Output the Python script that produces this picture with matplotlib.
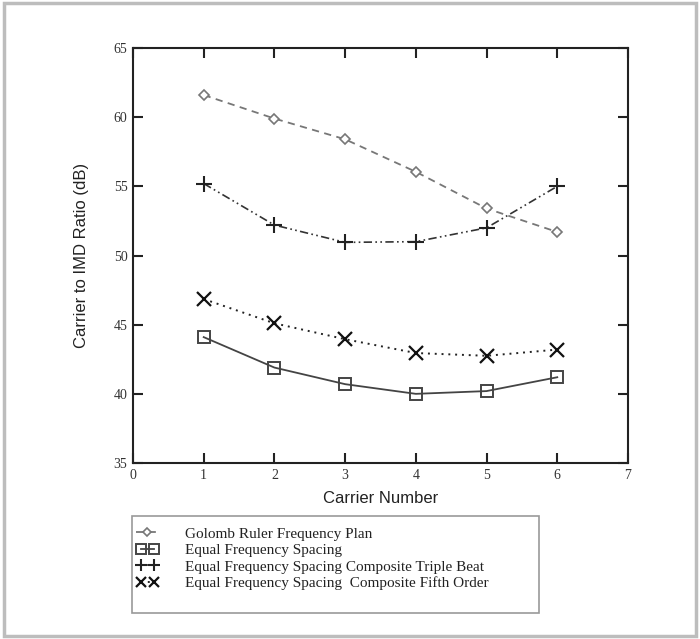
import matplotlib
matplotlib.use('Agg')
import matplotlib.pyplot as plt
from matplotlib.patches import Rectangle
from matplotlib.legend_handler import HandlerLine2D

# values
carrier = [1, 2, 3, 4, 5, 6]
golomb = [61.6, 59.9, 58.4, 56.05, 53.4, 51.7]
equal_spacing = [44.1, 41.9, 40.7, 40.0, 40.2, 41.2]
triple_beat = [55.2, 52.2, 50.95, 51.0, 52.0, 55.0]
fifth_order = [46.85, 45.1, 43.95, 42.95, 42.75, 43.2]

labels = ['Golomb Ruler Frequency Plan',
          'Equal Frequency Spacing',
          'Equal Frequency Spacing Composite Triple Beat',
          'Equal Frequency Spacing  Composite Fifth Order']

serif = 'Liberation Serif'
sans = 'Liberation Sans'

fig = plt.figure(figsize=(7.0, 6.39), dpi=100)

# grey outer frame
fig.patches.append(Rectangle((4 / 700, 3 / 639), 692 / 700, 633 / 639, transform=fig.transFigure,
                             fill=False, edgecolor='#bdbdbd', linewidth=2.5))

ax = fig.add_axes([0.19, 0.2754, 0.7071, 0.6495])

l1, = ax.plot(carrier, golomb, linestyle=(0, (4, 3)), color='#777777', linewidth=1.3,
              marker='D', markersize=5.5, markerfacecolor='white', markeredgecolor='#777777',
              markeredgewidth=1.2, label=labels[0])
l2, = ax.plot(carrier, equal_spacing, linestyle='-', color='#444444', linewidth=1.3,
              marker='s', markersize=9, markerfacecolor='none', markeredgecolor='#444444',
              markeredgewidth=1.4, label=labels[1])
l3, = ax.plot(carrier, triple_beat, linestyle=(0, (5, 2, 1, 2, 1, 2)), color='#333333', linewidth=1.2,
              marker='+', markersize=12, markeredgewidth=1.5, markeredgecolor='#222222',
              label=labels[2])
l4, = ax.plot(carrier, fifth_order, linestyle=(0, (1, 2.5)), color='#222222', linewidth=1.4,
              marker='x', markersize=10, markeredgewidth=1.6, markeredgecolor='#111111',
              label=labels[3])

ax.set_xlim(0, 7)
ax.set_ylim(35, 65)
ax.set_xticks(range(0, 8))
ax.set_yticks(range(35, 70, 5))

for s in ax.spines.values():
    s.set_linewidth(1.5)
    s.set_color('#222222')

ax.tick_params(direction='in', length=7, width=1.5, color='#222222',
               top=True, right=True, labelsize=10, labelcolor='#333333', pad=4)
for t in ax.get_xticklabels() + ax.get_yticklabels():
    t.set_fontfamily(serif)

ax.set_xlabel('Carrier Number', fontfamily=sans, fontsize=12, color='#222222', labelpad=7)
ax.set_ylabel('Carrier to IMD Ratio (dB)', fontfamily=sans, fontsize=12, color='#222222', labelpad=18)

# legend box drawn separately so its height matches
fig.patches.append(Rectangle((132 / 700, 1 - 613 / 639), 407 / 700, 97 / 639, transform=fig.transFigure,
                             fill=False, edgecolor='#999999', linewidth=1.2))
fig.legend(handles=[l1, l2, l3, l4], loc='upper left', bbox_to_anchor=(136 / 700, 1 - 527 / 639),
           frameon=False, numpoints=2, markerscale=0.75, handlelength=1.5, handletextpad=1.7,
           labelspacing=0.18, borderaxespad=0, borderpad=0,
           handler_map={l1: HandlerLine2D(numpoints=1)},
           prop={'family': serif, 'size': 11}, labelcolor='#222222')

fig.savefig('out.png', dpi=100)
